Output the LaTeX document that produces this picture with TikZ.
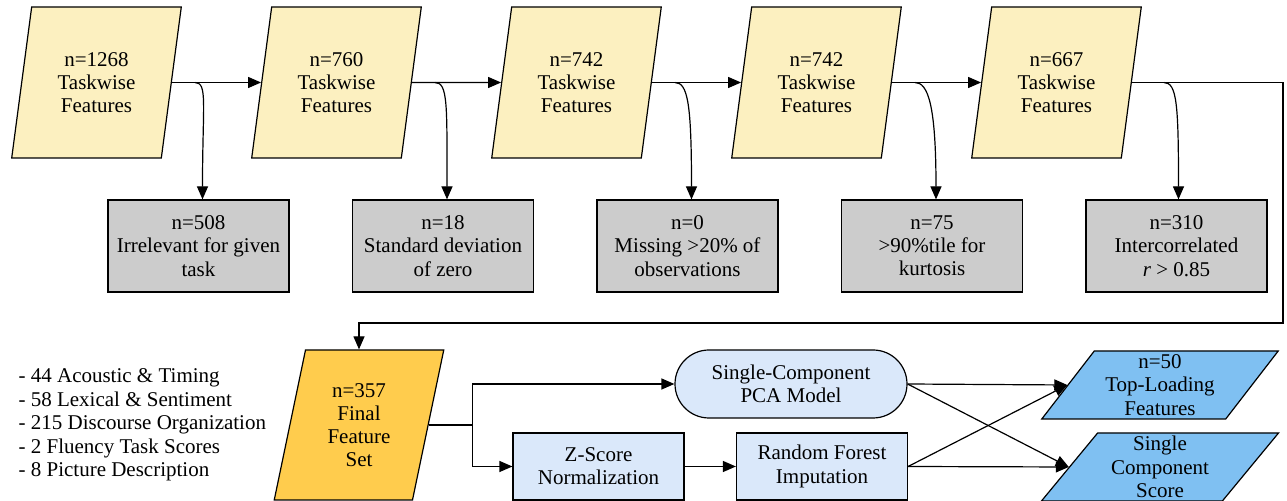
\documentclass[tikz,border=0pt]{standalone}
\usepackage{fontspec}
\setmainfont{Liberation Serif}
\usetikzlibrary{arrows.meta,shapes.geometric,shapes.misc,calc}

\definecolor{cream}{RGB}{252,240,192}
\definecolor{dropgray}{RGB}{204,204,204}
\definecolor{finalorange}{RGB}{255,204,77}
\definecolor{paleblue}{RGB}{218,232,250}
\definecolor{outblue}{RGB}{127,192,242}

\begin{document}
\begin{tikzpicture}[x=0.5pt,y=-0.5pt,line width=0.6pt,
  >={Triangle[length=6.5pt,width=5.5pt]},
  every node/.style={font=\rmfamily\fontsize{10.5}{11.6}\selectfont,align=center,inner sep=0pt},
  feat/.style={draw,fill=cream,trapezium,trapezium left angle=78.8,trapezium right angle=101.2,
    trapezium stretches=true,minimum width=85pt,minimum height=75.5pt},
  drop/.style={draw,fill=dropgray,minimum width=90.5pt,minimum height=46pt},
  final/.style={draw,fill=finalorange,trapezium,trapezium left angle=77.6,trapezium right angle=102.4,
    trapezium stretches=true,minimum width=85pt,minimum height=75pt},
  proc/.style={draw,fill=paleblue,minimum width=85.5pt,minimum height=33.5pt},
  outbox/.style={draw,fill=outblue,trapezium,trapezium left angle=54.2,trapezium right angle=125.8,
    trapezium stretches=true,minimum width=119pt,minimum height=34pt},
  dropline/.style={->,to path={.. controls +(13,0) and +(0,-95) .. (\tikztotarget)}}]
\useasboundingbox (0,0) rectangle (1287,501);

% taskwise features
\node[feat] (p1) at (96.5,82.5) {n=1268\\Taskwise\\Features};
\node[feat] (p2) at (336.5,82.5) {n=760\\Taskwise\\Features};
\node[feat] (p3) at (576.5,82.5) {n=742\\Taskwise\\Features};
\node[feat] (p4) at (816.5,82.5) {n=742\\Taskwise\\Features};
\node[feat] (p5) at (1056.5,82.5) {n=667\\Taskwise\\Features};

% removed features
\node[drop] (g1) at (198.5,246) {n=508\\Irrelevant for given\\task};
\node[drop] (g2) at (443,246) {n=18\\Standard deviation\\of zero};
\node[drop] (g3) at (687.5,246) {n=0\\Missing >20\% of\\observations};
\node[drop] (g4) at (932,246) {n=75\\>90\%tile for\\kurtosis};
\node[drop] (g5) at (1176.5,246) {n=310\\Intercorrelated\\\textit{r} > 0.85};

\draw[->] (p1.east) -- (p2.west);
\draw[->] (p2.east) -- (p3.west);
\draw[->] (p3.east) -- (p4.west);
\draw[->] (p4.east) -- (p5.west);
\draw[dropline] ($(p1.east)+(23,0)$) to ($(g1.north)+(4,0)$);
\draw[dropline] ($(p2.east)+(23,0)$) to ($(g2.north)+(4,0)$);
\draw[dropline] ($(p3.east)+(23,0)$) to ($(g3.north)+(4,0)$);
\draw[dropline] ($(p4.east)+(23,0)$) to ($(g4.north)+(4,0)$);
\draw[dropline] ($(p5.east)+(32,0)$) to ($(g5.north)+(2,0)$);

% final set
\node[final] (fin) at (359,425) {n=357\\Final\\Feature\\Set};
\coordinate (turn) at (1283,323);
\draw[->] (p5.east) -| (turn) -| (fin.center |- fin.north);

\node[anchor=north west,align=left,font=\rmfamily\fontsize{10.5}{11.8}\selectfont] (groups) at (18,368)
  {- 44 Acoustic \& Timing\\- 58 Lexical \& Sentiment\\- 215 Discourse Organization\\- 2 Fluency Task Scores\\- 8 Picture Description};

% modelling
\node[draw,fill=paleblue,rounded rectangle,minimum width=116pt,minimum height=34pt] (pca) at (791,384) {Single-Component\\PCA Model};
\node[proc] (zs) at (598.5,466.5) {Z-Score\\Normalization};
\node[proc] (rf) at (822,466.5) {Random Forest\\Imputation};
\node[outbox] (tl) at (1160,385) {n=50\\Top-Loading\\Features};
\node[outbox] (sc) at (1160,467) {Single\\Component\\Score};

\coordinate (split) at ($(fin.east)+(44,0)$);
\draw (fin.east) -- (split);
\draw[->] (split) |- (pca.west);
\draw[->] (split) |- (zs.west);
\draw[->] (zs) -- (rf);
\draw[->] (pca.east) -- (tl.west);
\draw[->] (pca.east) -- (sc.west);
\draw[->] (rf.east) -- (tl.west);
\draw[->] (rf.east) -- (sc.west);
\end{tikzpicture}
\end{document}
